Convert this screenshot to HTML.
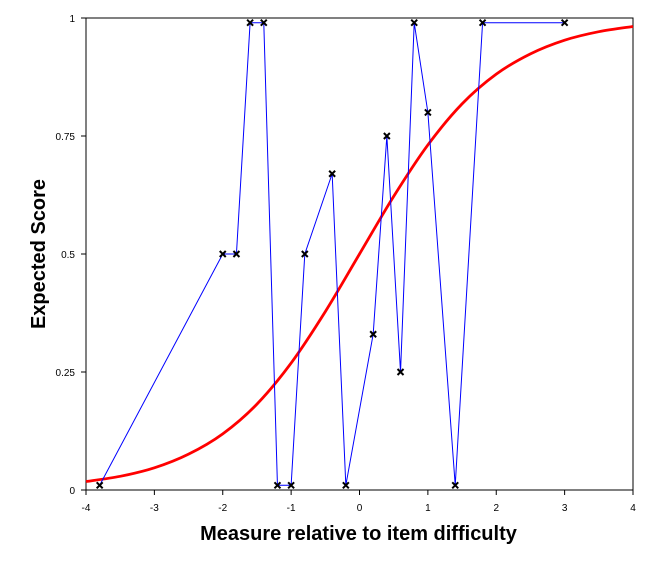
<!DOCTYPE html>
<html><head><meta charset="utf-8"><style>
body{margin:0;background:#fff;}
svg text{font-family:"Liberation Sans",Arial,sans-serif;}
</style></head><body>
<svg id="c" width="657" height="560" xmlns="http://www.w3.org/2000/svg">
<rect x="0" y="0" width="657" height="560" fill="#fff"/>
</svg>
<script>
const obsX=[-3.8,-2,-1.8,-1.6,-1.4,-1.2,-1,-0.8,-0.4,-0.2,0.2,0.4,0.6,0.8,1,1.4,1.8];
const obsY=[0.01,0.5,0.5,0.99,0.99,0.01,0.01,0.5,0.67,0.01,0.33,0.75,0.25,0.99,0.8,0.01,0.99];
const extraX=[1.8,3];
const extraY=[0.99,0.99];
const curveX=[-4,-3.5,-3,-2.5,-2,-1.5,-1,-0.5,0,0.5,1,1.5,2,2.5,3,3.5,4];
const curveY=[0.018,0.029,0.047,0.076,0.119,0.182,0.269,0.378,0.5,0.622,0.731,0.818,0.881,0.924,0.953,0.971,0.982];
const xTicks=[-4,-3,-2,-1,0,1,2,3,4];
const yTicks=[0,0.25,0.5,0.75,1];
const yTickLabels=["0","0.25","0.5","0.75","1"];

const L=86,R=633,T=18,B=490;
const sx=v=>L+(v+4)/8*(R-L);
const sy=v=>B-v*(B-T);
const svg=document.getElementById('c');
const NS='http://www.w3.org/2000/svg';
function mk(tag,attrs,parent){const e=document.createElementNS(NS,tag);for(const k in attrs)e.setAttribute(k,attrs[k]);(parent||svg).appendChild(e);return e;}

const box=mk('rect',{x:L,y:T,width:R-L,height:B-T,fill:'none',stroke:'#000','stroke-width':1});



xTicks.forEach(v=>{
  const t=mk('line',{x1:sx(v),x2:sx(v),y1:B,y2:B+5,stroke:'#000'});
  
  
  const l=mk('text',{x:sx(v),y:B+21,'font-size':10,'text-anchor':'middle'});
  l.textContent=v;
  
  
});
yTicks.forEach((v,i)=>{
  const t=mk('line',{x1:L-5,x2:L,y1:sy(v),y2:sy(v),stroke:'#000'});
  
  
  const l=mk('text',{x:L-11,y:sy(v)+4,'font-size':10,'text-anchor':'end'});
  l.textContent=yTickLabels[i];
  
  
});

const pts=curveX.map((x,i)=>[sx(x),sy(curveY[i])]);
let d='M'+pts[0][0]+','+pts[0][1];
for(let i=0;i<pts.length-1;i++){
  const p0=pts[Math.max(0,i-1)],p1=pts[i],p2=pts[i+1],p3=pts[Math.min(pts.length-1,i+2)];
  d+=' C'+(p1[0]+(p2[0]-p0[0])/6)+','+(p1[1]+(p2[1]-p0[1])/6)+' '+(p2[0]-(p3[0]-p1[0])/6)+','+(p2[1]-(p3[1]-p1[1])/6)+' '+p2[0]+','+p2[1];
}
const curve=mk('path',{d:d,fill:'none',stroke:'#ff0000','stroke-width':2.8});



const obs=mk('polyline',{points:obsX.map((x,i)=>sx(x)+','+sy(obsY[i])).join(' '),fill:'none',stroke:'#0000ff','stroke-width':1});


const ext=mk('polyline',{points:extraX.map((x,i)=>sx(x)+','+sy(extraY[i])).join(' '),fill:'none',stroke:'#0000ff','stroke-width':1});



function marker(x,y){
  const g=mk('path',{d:`M${x-3},${y-3}L${x+3},${y+3}M${x-3},${y+3}L${x+3},${y-3}`,stroke:'#000','stroke-width':2});
  
  
}
obsX.forEach((x,i)=>marker(sx(x),sy(obsY[i])));
marker(sx(extraX[1]),sy(extraY[1]));

const xt=mk('text',{x:(L+R)/2-1,y:540,'font-size':20,'font-weight':'bold','text-anchor':'middle'});
xt.textContent='Measure relative to item difficulty';


const yt=mk('text',{x:0,y:0,'font-size':20,'font-weight':'bold','text-anchor':'middle',transform:`translate(45,${(T+B)/2}) rotate(-90)`});
yt.textContent='Expected Score';


</script>
</body></html>
